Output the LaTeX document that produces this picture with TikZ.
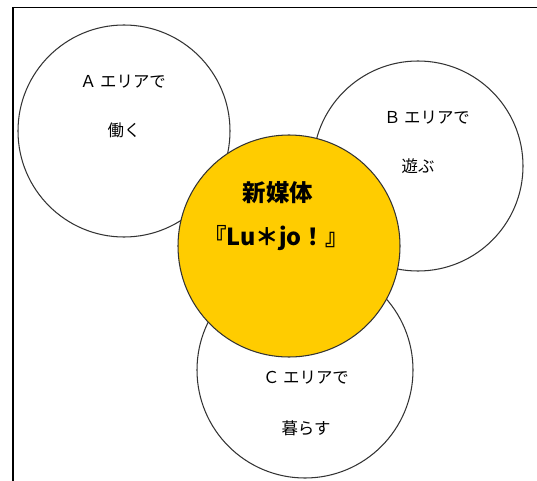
\documentclass[tikz,border=0pt]{standalone}
\usepackage{fontspec}
\newfontfamily\cjk{Noto Sans CJK JP}
\usetikzlibrary{positioning}
\definecolor{luxyellow}{HTML}{FFCC00}
\tikzset{
	area/.style={circle, draw=black!80, line width=0.9pt, fill=white, inner sep=0pt},
	label/.style={font=\cjk\fontsize{14}{16}\selectfont, inner sep=0pt},
	title/.style={font=\cjk\bfseries\fontsize{20}{24}\selectfont, inner sep=0pt}
}

\begin{document}
\begin{tikzpicture}[x=0.03cm, y=-0.03cm]
		%%%%% START %%%%%
		\useasboundingbox (0, 0) rectangle (537, 481);
		\draw[line width=1.4pt] (13, 481) -- (13, 7.5) -- (537, 7.5);
		
		\node[area, minimum size=212*0.03cm] (areaA) at (124, 131) {};
		\node[area, minimum size=210*0.03cm] (areaB) at (418, 166) {};
		\node[area, minimum size=216*0.03cm] (areaC) at (305, 370) {};
		\node[area, fill=luxyellow, minimum size=222*0.03cm] (media) at (289, 246) {};
		
		\node[label] (textA1) at (123, 82) {Ａ エリアで};
		\node[label] (textA2) at (124, 130) {働く};
		
		\node[label] (textB1) at (427, 118) {Ｂ エリアで};
		\node[label] (textB2) at (418, 166) {遊ぶ};
		
		\node[label] (textC1) at (306, 378) {Ｃ エリアで};
		\node[label] (textC2) at (306, 428) {暮らす};
		
		\node[title] (medianame) at (278, 193) {新媒体};
		\node[title] (mediatitle) at (276, 238) {『Lu＊jo！』};
		%%%%% END %%%%%
	\end{tikzpicture}
\end{document}
